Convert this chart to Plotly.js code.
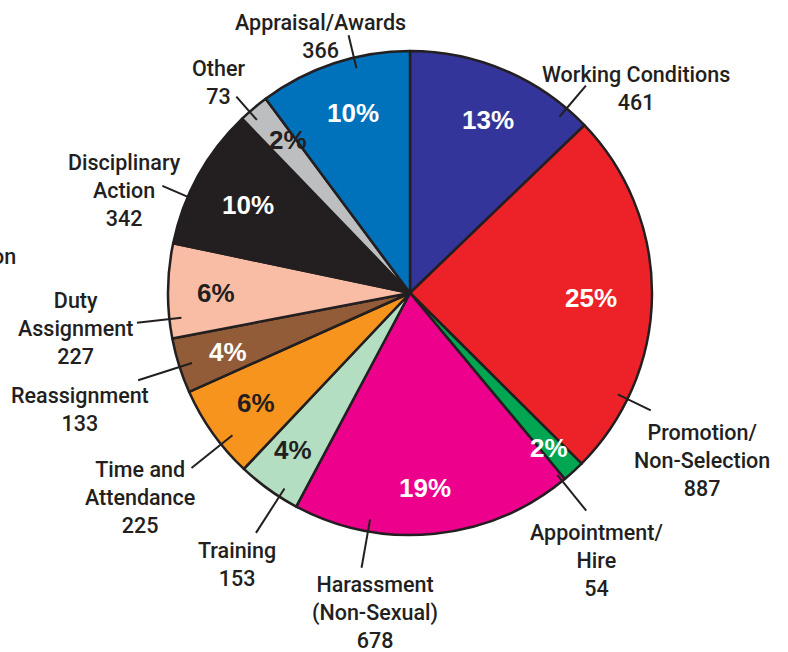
<!DOCTYPE html>
<html>
<head>
<meta charset="utf-8">
<script src="https://cdn.plot.ly/plotly-3.0.1.min.js"></script>
<style>html,body{margin:0;padding:0;background:#fff}#chart{width:788px;height:652px}</style>
</head>
<body>
<div id="chart"></div>
<script>
// ---- data ----
const categories = ["Working Conditions", "Promotion/<br>Non-Selection", "Appointment/<br>Hire",
  "Harassment<br>(Non-Sexual)", "Training", "Time and<br>Attendance", "Reassignment",
  "Duty<br>Assignment", "Disciplinary<br>Action", "Other", "Appraisal/Awards"];
const counts = [461, 887, 54, 678, 153, 225, 133, 227, 342, 73, 366];
const percentLabels = ["13%", "25%", "2%", "19%", "4%", "6%", "4%", "6%", "10%", "2%", "10%"];

// ---- styles / placement ----
const colors = ["#34359a", "#ed2229", "#00a651", "#ec008c", "#b3dec1", "#f7941d",
  "#925c38", "#f9bda6", "#231f20", "#bcbec0", "#0072bc"];
const pctColors = ["#ffffff", "#ffffff", "#ffffff", "#ffffff", "#231f20", "#231f20",
  "#ffffff", "#231f20", "#ffffff", "#231f20", "#ffffff"];
const pctR = [0.785, 0.75, 0.86, 0.81, 0.81, 0.78, 0.79, 0.80, 0.76, 0.81, 0.78];
const pctA = [24.3, 91.6, 138.1, 175.6, 216.7, 234.5, 252, 270, 298.5, 321.4, 342.4];
const lineA = [40.3, 116, 141, 190, 212.7, 231.3, 252.2, 263.8, 293.4, 318.5, 346.6];
const lineR0 = [0.955, 0.955, 0.967, 0.95, 0.96, 0.94, 0.946, 0.95, 1.0, 0.955, 0.955];
const lineR1 = [1.124, 1.107, 1.157, 1.153, 1.178, 1.157, 1.18, 1.135, 1.115, 1.083, 1.095];
const textA = [47.8, 119.8, 145, 186.2, 212.5, 232.8, 250.5, 263.9, 289.7, 317.6, 340.7];
const textR = [1.261, 1.39, 1.347, 1.33, 1.332, 1.401, 1.447, 1.392, 1.251, 1.176, 1.125];

const W = 788, H = 652;
const M = {l: 168, r: 136, t: 51, b: 117};
const pw = W - M.l - M.r, ph = H - M.t - M.b;
const cx = 0.5, cy = 0.5; // paper coords of pie centre
const R = 0.5;            // radius in paper units (square plot area)

function polar(angDeg, rf) {
  const a = angDeg * Math.PI / 180;
  return {x: cx + R * rf * Math.sin(a), y: cy + R * rf * Math.cos(a)};
}

const labelFont = {family: "Roboto, 'Liberation Sans', Arial, sans-serif", size: 21.5, color: "#231f20", weight: 500};
const pctFontBase = {family: "'Liberation Sans', Arial, sans-serif", size: 26, weight: "bold"};

const annotations = [];
const shapes = [];
for (let i = 0; i < counts.length; i++) {
  const p = polar(pctA[i], pctR[i]);
  annotations.push({xref: "paper", yref: "paper", x: p.x, y: p.y, xanchor: "center", yanchor: "middle",
    text: percentLabels[i], showarrow: false, font: Object.assign({}, pctFontBase, {color: pctColors[i]})});
  const t = polar(textA[i], textR[i]);
  annotations.push({xref: "paper", yref: "paper", x: t.x, y: t.y, xanchor: "center", yanchor: "middle",
    text: categories[i] + "<br>" + counts[i], showarrow: false, font: labelFont});
  const a0 = polar(lineA[i], lineR0[i]), a1 = polar(lineA[i], lineR1[i]);
  shapes.push({type: "line", xref: "paper", yref: "paper", x0: a0.x, y0: a0.y, x1: a1.x, y1: a1.y,
    line: {color: "#231f20", width: 2}});
}
// partially cropped label at the left edge of the original image
annotations.push({xref: "paper", yref: "paper", x: (18 - M.l) / pw, y: 1 - (256 - M.t) / ph,
  xanchor: "right", yanchor: "middle", text: "on", showarrow: false, font: labelFont});

const trace = {
  type: "pie",
  values: counts,
  labels: categories,
  sort: false,
  direction: "clockwise",
  rotation: 0,
  textinfo: "none",
  hoverinfo: "none",
  marker: {colors: colors, line: {color: "#231f20", width: 2.5}},
  showlegend: false
};

Plotly.newPlot("chart", [trace], {
  width: W, height: H,
  margin: M,
  paper_bgcolor: "#ffffff",
  plot_bgcolor: "#ffffff",
  annotations: annotations,
  shapes: shapes,
  showlegend: false
}, {displayModeBar: false, staticPlot: true});
</script>
</body>
</html>
